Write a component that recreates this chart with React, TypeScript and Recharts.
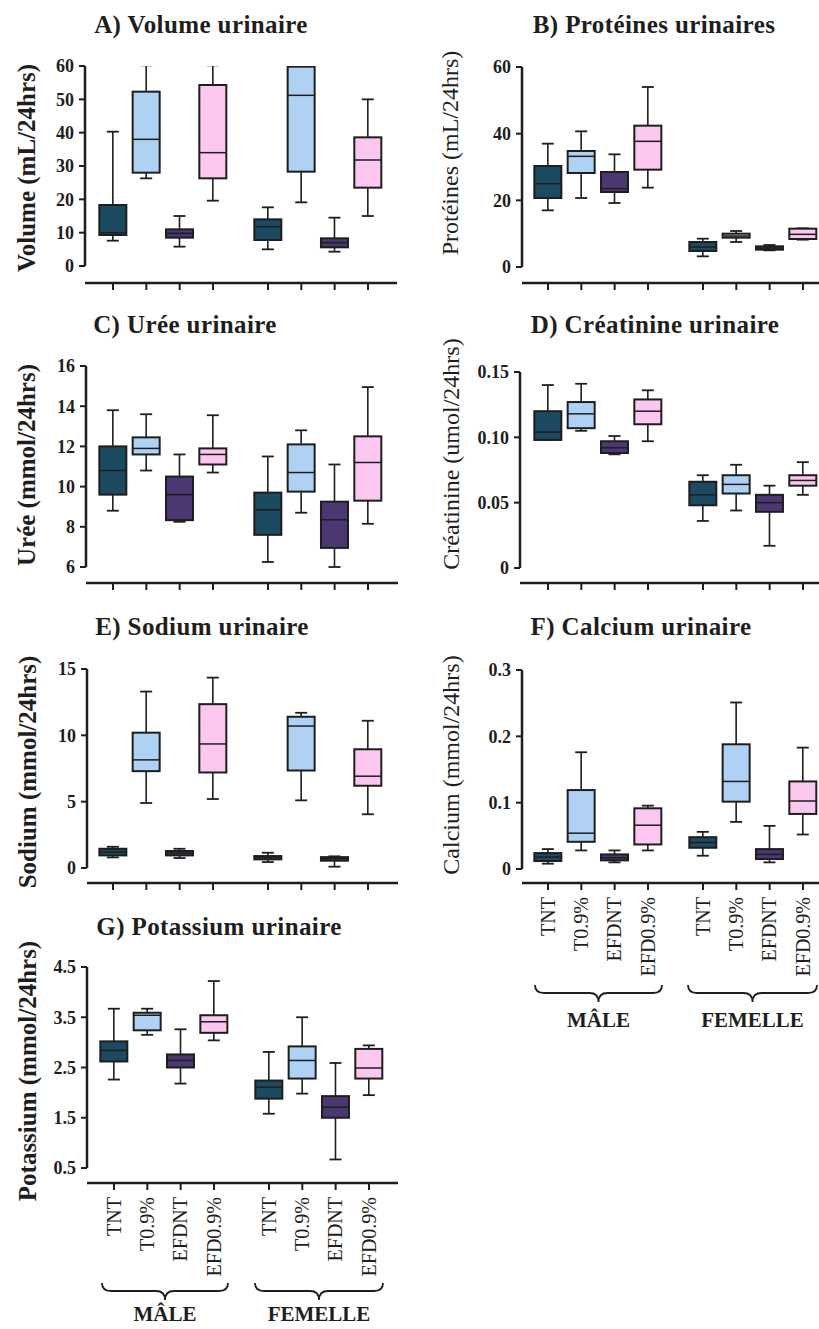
import { ComposedChart, Bar, XAxis, YAxis, ReferenceLine } from 'recharts';

const SERIF = "'Liberation Serif', 'Times New Roman', serif";
const INK = '#1e1e1e';

// groups, in drawing order: 4 male then 4 female
const groups = ['TNT', 'T0.9%', 'EFDNT', 'EFD0.9%', 'TNT', 'T0.9%', 'EFDNT', 'EFD0.9%'];
const positions = [1, 2, 3, 4, 5.65, 6.65, 7.65, 8.65];
const groupColors = ['#1c4a60', '#afd2f4', '#4b3872', '#fbc7ee'];

// each row: [min, q1, median, q3, max]
const volume = [
    [7.6, 9.3, 10, 18.3, 40.3],
    [26.3, 28, 38, 52.3, 60.2],
    [5.8, 8.5, 9.8, 11, 15],
    [19.6, 26.3, 34, 54.3, 60.2],
    [5, 7.8, 11.8, 14, 17.6],
    [19.1, 28.3, 51.2, 59.8, 60],
    [4.3, 5.6, 7, 8.3, 14.5],
    [15, 23.5, 31.8, 38.6, 50],
];
const proteines = [
    [17, 20.7, 25, 30.3, 37],
    [20.7, 28.2, 33.2, 34.8, 40.7],
    [19.2, 22.5, 23.5, 28.5, 33.8],
    [23.8, 29.2, 37.7, 42.4, 54],
    [3.2, 4.8, 6, 7.5, 8.5],
    [7.5, 8.8, 9.3, 10, 10.8],
    [5, 5.2, 5.7, 6.2, 6.6],
    [8.2, 8.4, 9.8, 11.5, 11.6],
];
const uree = [
    [8.8, 9.6, 10.8, 12.0, 13.8],
    [10.8, 11.6, 11.9, 12.45, 13.6],
    [8.25, 8.33, 9.6, 10.5, 11.6],
    [10.7, 11.1, 11.6, 11.9, 13.55],
    [6.25, 7.6, 8.85, 9.7, 11.5],
    [8.7, 9.75, 10.7, 12.1, 12.8],
    [6.0, 6.95, 8.35, 9.25, 11.1],
    [8.15, 9.3, 11.2, 12.5, 14.95],
];
const creatinine = [
    [0.098, 0.098, 0.104, 0.12, 0.14],
    [0.105, 0.107, 0.118, 0.127, 0.141],
    [0.087, 0.088, 0.092, 0.097, 0.101],
    [0.097, 0.11, 0.12, 0.129, 0.136],
    [0.036, 0.048, 0.056, 0.066, 0.071],
    [0.044, 0.057, 0.064, 0.071, 0.079],
    [0.017, 0.043, 0.05, 0.056, 0.063],
    [0.056, 0.063, 0.067, 0.071, 0.081],
];
const sodium = [
    [0.8, 0.95, 1.2, 1.45, 1.6],
    [4.9, 7.3, 8.15, 10.2, 13.3],
    [0.75, 0.95, 1.12, 1.28, 1.45],
    [5.2, 7.2, 9.35, 12.35, 14.35],
    [0.45, 0.65, 0.82, 0.9, 1.15],
    [5.1, 7.35, 10.7, 11.4, 11.7],
    [0.1, 0.55, 0.7, 0.82, 0.88],
    [4.05, 6.2, 6.92, 8.95, 11.1],
];
const calcium = [
    [0.008, 0.012, 0.018, 0.024, 0.03],
    [0.028, 0.041, 0.054, 0.119, 0.176],
    [0.01, 0.013, 0.017, 0.022, 0.028],
    [0.028, 0.037, 0.066, 0.0915, 0.0955],
    [0.02, 0.032, 0.04, 0.048, 0.056],
    [0.071, 0.1015, 0.132, 0.188, 0.251],
    [0.01, 0.015, 0.022, 0.03, 0.065],
    [0.052, 0.083, 0.1025, 0.132, 0.183],
];
const potassium = [
    [2.26, 2.62, 2.84, 3.02, 3.67],
    [3.15, 3.24, 3.54, 3.59, 3.67],
    [2.18, 2.5, 2.64, 2.76, 3.26],
    [3.04, 3.19, 3.41, 3.54, 4.22],
    [1.58, 1.88, 2.11, 2.24, 2.81],
    [1.98, 2.28, 2.64, 2.92, 3.5],
    [0.67, 1.5, 1.71, 1.93, 2.59],
    [1.95, 2.28, 2.49, 2.87, 2.94],
];

const volumeTicks = [0, 10, 20, 30, 40, 50, 60];
const proteinesTicks = [0, 20, 40, 60];
const ureeTicks = [6, 8, 10, 12, 14, 16];
const creatinineTicks = [0, 0.05, 0.1, 0.15];
const sodiumTicks = [0, 5, 10, 15];
const calciumTicks = [0, 0.1, 0.2, 0.3];
const potassiumTicks = [0.5, 1.5, 2.5, 3.5, 4.5];

const intFmt = (v: number) => String(v);
const fmt2 = (v: number) => (v === 0 ? '0' : v.toFixed(2));
const fmt1 = (v: number) => (v === 0 ? '0' : v.toFixed(1));

const SLOT = 33.33; // px between two neighbouring groups

const panels = [
    { title: 'A) Volume urinaire', tx: 201, ty: 33, label: 'Volume (mL/24hrs)', lx: 26, ly: 168, bold: true,
      stats: volume, ticks: volumeTicks, fmt: intFmt, left: 85, firstTick: 113, right: 397, yTop: 66, y0: 266, axisY: 283 },
    { title: 'B) Protéines urinaires', tx: 654, ty: 33, label: 'Protéines (mL/24hrs)', lx: 450, ly: 153, bold: false,
      stats: proteines, ticks: proteinesTicks, fmt: intFmt, left: 522, firstTick: 548, right: 819, yTop: 67, y0: 267, axisY: 283 },
    { title: 'C) Urée urinaire', tx: 185, ty: 333, label: 'Urée (mmol/24hrs)', lx: 26, ly: 465, bold: true,
      stats: uree, ticks: ureeTicks, fmt: intFmt, left: 86, firstTick: 113, right: 398, yTop: 366, y0: 567, axisY: 583 },
    { title: 'D) Créatinine urinaire', tx: 655, ty: 333, label: 'Créatinine (umol/24hrs)', lx: 451, ly: 454, bold: false,
      stats: creatinine, ticks: creatinineTicks, fmt: fmt2, left: 520, firstTick: 548, right: 819, yTop: 372, y0: 568, axisY: 583 },
    { title: 'E) Sodium urinaire', tx: 202, ty: 635, label: 'Sodium (mmol/24hrs)', lx: 27, ly: 772, bold: true,
      stats: sodium, ticks: sodiumTicks, fmt: intFmt, left: 87, firstTick: 113, right: 398, yTop: 669, y0: 868, axisY: 883 },
    { title: 'F) Calcium urinaire', tx: 641, ty: 635, label: 'Calcium (mmol/24hrs)', lx: 451, ly: 765, bold: false,
      stats: calcium, ticks: calciumTicks, fmt: fmt1, left: 522, firstTick: 548, right: 819, yTop: 670, y0: 869, axisY: 883, labels: true },
    { title: 'G) Potassium urinaire', tx: 219, ty: 935, label: 'Potassium (mmol/24hrs)', lx: 27, ly: 1071, bold: true,
      stats: potassium, ticks: potassiumTicks, fmt: fmt1, left: 87, firstTick: 114, right: 398, yTop: 967, y0: 1168, axisY: 1183, labels: true },
];

// group braces under the labelled panels
const braces = [
    { x1: 535, x2: 662, y: 985, text: 'MÂLE', ty: 1027 },
    { x1: 688, x2: 817, y: 985, text: 'FEMELLE', ty: 1027 },
    { x1: 102, x2: 228, y: 1283, text: 'MÂLE', ty: 1321 },
    { x1: 255, x2: 383, y: 1283, text: 'FEMELLE', ty: 1321 },
];

function BoxShape(props: any) {
    const { x, y, width, height, payload } = props;
    if (!payload || x == null) return null;
    const [mn, q1, md, q3, mx] = payload.stats;
    const top = Math.min(y, y + height);
    const h = Math.abs(height);
    const span = mx - mn;
    const py = (v: number) => (span === 0 ? top : top + (h * (mx - v)) / span);
    const cx = x + width / 2;
    const cap = 6;
    return (
        <g>
            <line x1={cx} x2={cx} y1={py(mx)} y2={py(q3)} stroke={INK} strokeWidth={1.6} />
            <line x1={cx} x2={cx} y1={py(q1)} y2={py(mn)} stroke={INK} strokeWidth={1.6} />
            <line x1={cx - cap} x2={cx + cap} y1={py(mx)} y2={py(mx)} stroke={INK} strokeWidth={1.8} />
            <line x1={cx - cap} x2={cx + cap} y1={py(mn)} y2={py(mn)} stroke={INK} strokeWidth={1.8} />
            <rect x={x} y={py(q3)} width={width} height={Math.max(py(q1) - py(q3), 1)} fill={payload.fill} stroke={INK} strokeWidth={2} />
            <line x1={x} x2={x + width} y1={py(md)} y2={py(md)} stroke={INK} strokeWidth={1.5} />
        </g>
    );
}

function RotTick(props: any) {
    const { x, y, payload } = props;
    const i = positions.indexOf(payload.value);
    const ty = y + 5;
    return (
        <text x={x} y={ty} transform={`rotate(-90, ${x}, ${ty})`} textAnchor="end" dy="0.34em"
            fontFamily={SERIF} fontSize={20} fill={INK}>
            {groups[i] ?? ''}
        </text>
    );
}

const NoTick = () => <g />;

function BoxPanel({ p }: { p: any }) {
    const top = 14;
    const yAxisW = 70;
    const xAxisH = p.labels ? 110 : 14;
    const plotW = p.right - p.left;
    const plotH = p.axisY - p.yTop;
    const yMin = p.ticks[0];
    const yMax = p.ticks[p.ticks.length - 1];
    const yLow = yMin - ((p.axisY - p.y0) * (yMax - yMin)) / (p.y0 - p.yTop);
    const xMin = 1 - (p.firstTick - p.left) / SLOT;
    const xMax = xMin + plotW / SLOT;

    const data = positions.map((pos, i) => ({
        pos,
        name: groups[i],
        range: [p.stats[i][0], p.stats[i][4]],
        stats: p.stats[i],
        fill: groupColors[i % 4],
    }));

    return (
        <div style={{ position: 'absolute', left: p.left - yAxisW, top: p.yTop - top }}>
            <ComposedChart width={plotW + yAxisW} height={plotH + top + xAxisH} data={data}
                margin={{ top, right: 0, bottom: 0, left: 0 }}>
                <XAxis type="number" dataKey="pos" domain={[xMin, xMax]} allowDataOverflow ticks={positions}
                    interval={0} height={xAxisH} axisLine={{ stroke: INK, strokeWidth: 2.5 }}
                    tickLine={{ stroke: INK, strokeWidth: 2 }} tickSize={7}
                    tick={p.labels ? <RotTick /> : <NoTick />} />
                <YAxis type="number" domain={[yLow, yMax]} allowDataOverflow ticks={p.ticks} interval={0}
                    width={yAxisW} axisLine={false} tickLine={{ stroke: INK, strokeWidth: 2 }} tickSize={6}
                    tickMargin={5} tickFormatter={p.fmt}
                    tick={{ fontFamily: SERIF, fontSize: 18, fontWeight: 'bold', fill: INK }} />
                <ReferenceLine segment={[{ x: xMin, y: yMin }, { x: xMin, y: yMax }]} stroke={INK}
                    strokeWidth={2.5} ifOverflow="visible" />
                <Bar dataKey="range" barSize={27} shape={<BoxShape />} isAnimationActive={false} />
            </ComposedChart>
        </div>
    );
}

export default function App() {
    return (
        <div style={{ position: 'relative', width: 819, height: 1329, overflow: 'hidden', background: '#fff' }}>
            <style>{'body { margin: 0; }'}</style>
            {panels.map((p) => (
                <BoxPanel key={p.title} p={p} />
            ))}
            <svg width={819} height={1329} style={{ position: 'absolute', left: 0, top: 0, pointerEvents: 'none' }}>
                {panels.map((p) => (
                    <g key={p.title}>
                        <text x={p.tx} y={p.ty} textAnchor="middle" fontFamily={SERIF} fontSize={25}
                            fontWeight="bold" fill={INK} letterSpacing={0.4}>
                            {p.title}
                        </text>
                        <text x={p.lx} y={p.ly} transform={`rotate(-90, ${p.lx}, ${p.ly})`} textAnchor="middle"
                            dy="0.35em" fontFamily={SERIF} fontSize={p.bold ? 25 : 24}
                            fontWeight={p.bold ? 'bold' : 'normal'} fill={INK}>
                            {p.label}
                        </text>
                    </g>
                ))}
                {braces.map((b) => {
                    const mid = (b.x1 + b.x2) / 2;
                    const m = b.y + 8;
                    const d = `M ${b.x1} ${b.y} Q ${b.x1} ${m} ${b.x1 + 9} ${m} L ${mid - 9} ${m} Q ${mid} ${m} ${mid} ${b.y + 17} Q ${mid} ${m} ${mid + 9} ${m} L ${b.x2 - 9} ${m} Q ${b.x2} ${m} ${b.x2} ${b.y}`;
                    return (
                        <g key={b.x1}>
                            <path d={d} fill="none" stroke={INK} strokeWidth={1.8} />
                            <text x={mid} y={b.ty} textAnchor="middle" fontFamily={SERIF} fontSize={21}
                                fontWeight="bold" fill={INK}>
                                {b.text}
                            </text>
                        </g>
                    );
                })}
            </svg>
        </div>
    );
}
